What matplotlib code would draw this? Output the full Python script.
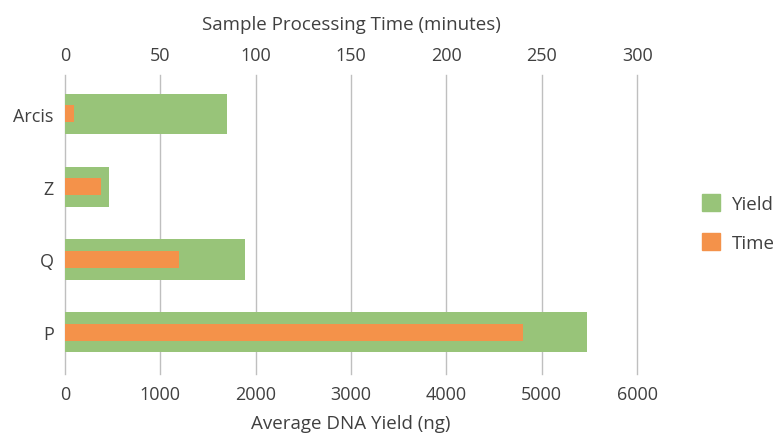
import numpy as np
import matplotlib
matplotlib.use('Agg')
import matplotlib.pyplot as plt
from matplotlib.patches import Patch

plt.rcParams['font.family'] = ['Open Sans', 'DejaVu Sans']

labels = ['P', 'Q', 'Z', 'Arcis']
yield_ng = [5475, 1890, 460, 1695]
time_min = [240, 60, 19, 5]

green = '#98C479'
orange = '#F4924A'
text_col = '#404040'

fig = plt.figure(figsize=(7.78, 4.39), dpi=100)
ax = fig.add_axes([0.0835, 0.1458, 0.7355, 0.6811])
y = np.arange(len(labels))

ax.barh(y, yield_ng, height=0.55, color=green, zorder=2)
ax.set_xlim(0, 6000)
ax.set_ylim(-0.57, 3.53)
ax.set_xticks(range(0, 6001, 1000))
ax.set_yticks(y)
ax.set_yticklabels(labels)
ax.set_xlabel('Average DNA Yield (ng)', fontsize=13.5, color=text_col, labelpad=8)
ax.grid(axis='x', color='#BFBFBF', linewidth=1, zorder=0)
for gl in ax.get_xgridlines():
    gl.set_clip_on(False)
ax.set_axisbelow(True)

ax2 = ax.twiny()
ax2.barh(y, time_min, height=0.23, color=orange, zorder=3)
ax2.set_xlim(0, 300)
ax2.set_xticks(range(0, 301, 50))
ax2.set_xlabel('Sample Processing Time (minutes)', fontsize=13.5, color=text_col, labelpad=12)

for a in (ax, ax2):
    for s in a.spines.values():
        s.set_visible(False)
    a.tick_params(length=0, labelsize=13, labelcolor=text_col, pad=8)

handles = [Patch(color=green, label='Yield'), Patch(color=orange, label='Time')]
fig.legend(handles=handles, loc='center left', bbox_to_anchor=(0.88, 0.49),
           frameon=False, fontsize=13.5, labelcolor=text_col,
           handlelength=1.0, handleheight=1.0, labelspacing=1.1, handletextpad=0.6)

fig.savefig('out.png', dpi=100)
